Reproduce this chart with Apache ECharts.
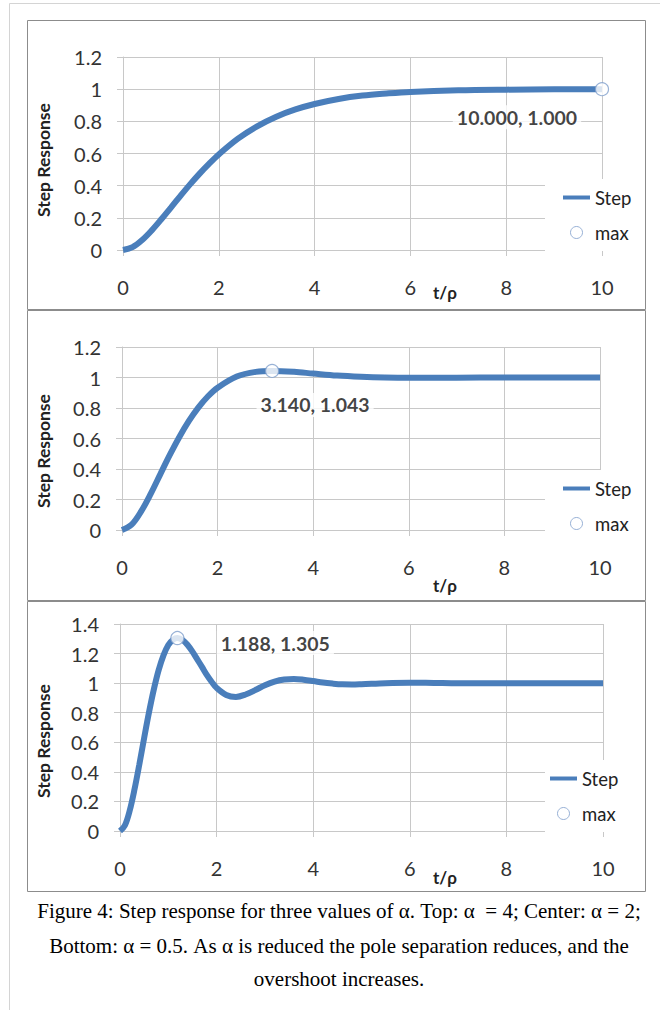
<!DOCTYPE html>
<html>
<head>
<meta charset="utf-8">
<script src="https://cdn.jsdelivr.net/npm/echarts@6/dist/echarts.min.js"></script>
<style>
  html, body { margin: 0; padding: 0; background: #fff; }
  #chart { width: 660px; height: 1010px; }
</style>
</head>
<body>
<div id="chart"></div>
<script>
// Step response curves, t/ρ against response, for α = 4, 2 and 0.5
const xTicks = [0, 2, 4, 6, 8, 10];

const tTop = [0, 0.2, 0.4, 0.6, 0.8, 1, 1.2, 1.4, 1.6, 1.8, 2, 2.4, 2.8, 3.2, 3.6, 4, 4.5, 5, 5.5, 6, 7, 8, 9, 10];
const yTop = [0, 0.018, 0.062, 0.122, 0.191, 0.264, 0.337, 0.408, 0.475, 0.537, 0.594, 0.692, 0.769, 0.829, 0.874, 0.908, 0.939, 0.960, 0.973, 0.983, 0.993, 0.997, 0.999, 1.000];
const maxTop = [10.000, 1.000];

const tCenter = [0, 0.2, 0.4, 0.6, 0.8, 1, 1.2, 1.4, 1.6, 1.8, 2, 2.4, 2.8, 3.14, 3.6, 4, 4.5, 5, 5.5, 6, 7, 8, 9, 10];
const yCenter = [0, 0.035, 0.122, 0.237, 0.365, 0.492, 0.610, 0.715, 0.804, 0.877, 0.933, 1.006, 1.037, 1.043, 1.037, 1.026, 1.013, 1.005, 1.000, 0.998, 0.999, 1.000, 1.000, 1.000];
const maxCenter = [3.140, 1.043];

const tBottom = [0, 0.1, 0.2, 0.3, 0.4, 0.5, 0.6, 0.7, 0.8, 0.9, 1, 1.1, 1.188, 1.3, 1.4, 1.5, 1.6, 1.7, 1.8, 1.9, 2, 2.2, 2.4, 2.6, 2.8, 3, 3.2, 3.4, 3.6, 3.8, 4, 4.2, 4.4, 4.6, 4.8, 5, 5.5, 6, 6.5, 7, 8, 9, 10];
const yBottom = [0, 0.037, 0.137, 0.281, 0.450, 0.629, 0.802, 0.957, 1.088, 1.188, 1.258, 1.295, 1.305, 1.291, 1.258, 1.213, 1.161, 1.108, 1.054, 1.008, 0.968, 0.920, 0.907, 0.923, 0.953, 0.986, 1.011, 1.025, 1.028, 1.023, 1.014, 1.004, 0.997, 0.992, 0.991, 0.993, 1.000, 1.003, 1.001, 0.999, 1.000, 1.000, 1.000];
const maxBottom = [1.188, 1.305];

const yMaxes = [1.2, 1.2, 1.4];
const yTitle = 'Step Response';
const xTitle = 't/ρ';
const legendNames = ['Step', 'max'];
const captionLines = [
  'Figure 4: Step response for three values of α. Top: α  = 4; Center: α = 2;',
  'Bottom: α = 0.5. As α is reduced the pole separation reduces, and the',
  'overshoot increases.'
];

const BLUE = '#4a7ebb';
const GRID = '#c8c8c8';
const FONT = 'Lato, "Open Sans", sans-serif';

const panels = [
  { t: tTop, y: yTop, peak: maxTop, grid: { left: 123, right: 58, top: 57, height: 193 },
    labelOffset: [-85, 28], legend: { left: 545, top: 179, padLeft: 18 },
    frame: [27.5, 20.5, 618, 289], yNameY: 160, xNameY: 292 },
  { t: tCenter, y: yCenter, peak: maxCenter, grid: { left: 122, right: 60, top: 347, height: 183 },
    labelOffset: [43, 34], legend: { left: 545, top: 470, padLeft: 18 },
    frame: [27.5, 310.5, 618, 290], yNameY: 451, xNameY: 585 },
  { t: tBottom, y: yBottom, peak: maxBottom, grid: { left: 120, right: 57, top: 624, height: 207 },
    labelOffset: [98, 5], legend: { left: 545, top: 760, padLeft: 5 },
    frame: [27.5, 601.5, 618, 290], yNameY: 741, xNameY: 877 }
];

const grids = [], xAxes = [], yAxes = [], series = [], legends = [], graphics = [];

// outer page frame (left and top edges)
graphics.push({
  type: 'polyline', silent: true,
  shape: { points: [[9.5, 1010], [9.5, 3.5], [660, 3.5]] },
  style: { stroke: '#d4d4d4', lineWidth: 1, fill: null }
});

panels.forEach((p, i) => {
  grids.push(p.grid);
  xAxes.push({
    type: 'value', gridIndex: i, min: xTicks[0], max: xTicks[xTicks.length - 1],
    interval: xTicks[1] - xTicks[0],
    axisLine: { show: true, onZero: false, lineStyle: { color: GRID, width: 1 } },
    axisTick: { show: true, length: 6, lineStyle: { color: GRID } },
    splitLine: { show: true, lineStyle: { color: GRID, width: 1 } },
    axisLabel: { fontSize: 20, fontFamily: FONT, color: '#333', margin: 27 }
  });
  yAxes.push({
    type: 'value', gridIndex: i, min: 0, max: yMaxes[i], interval: 0.2,
    axisLine: { show: true, lineStyle: { color: GRID, width: 1 } },
    axisTick: { show: true, length: 6, lineStyle: { color: GRID } },
    splitLine: { show: true, lineStyle: { color: GRID, width: 1 } },
    axisLabel: { fontSize: 20, fontFamily: FONT, color: '#333', margin: 21 }
  });
  series.push({
    type: 'line', name: legendNames[0], xAxisIndex: i, yAxisIndex: i,
    data: p.t.map((t, k) => [t, p.y[k]]),
    symbol: 'none', showSymbol: false, smooth: 0.35, silent: true,
    lineStyle: { color: BLUE, width: 6 }, itemStyle: { color: BLUE }, z: 2
  });
  series.push({
    type: 'scatter', name: legendNames[1], xAxisIndex: i, yAxisIndex: i,
    data: [p.peak], symbol: 'circle', symbolSize: 13, silent: true,
    itemStyle: { color: '#fff', borderColor: '#7f9fcc', borderWidth: 1.2 },
    label: {
      show: true, position: 'inside', offset: p.labelOffset,
      formatter: (d) => d.value[0].toFixed(3) + ', ' + d.value[1].toFixed(3),
      fontFamily: FONT, fontWeight: 'bold', fontSize: 19.5, color: '#111',
      backgroundColor: '#fff', padding: [2, 4]
    },
    z: 4
  });
  legends.push({
    orient: 'vertical', left: p.legend.left, top: p.legend.top,
    padding: [9, 10, 9, p.legend.padLeft], backgroundColor: '#fff',
    itemWidth: 27, itemHeight: 12, itemGap: 16, selectedMode: false,
    symbolKeepAspect: true,
    textStyle: { fontFamily: FONT, fontSize: 18.5, color: '#222', lineHeight: 18 },
    data: [
      { name: legendNames[0], icon: 'path://M0,0H27V4H0Z', itemStyle: { color: BLUE } },
      { name: legendNames[1], icon: 'circle', itemStyle: { color: '#fff', borderColor: '#7f9fcc', borderWidth: 1 } }
    ]
  });
  graphics.push({
    type: 'rect', silent: true,
    shape: { x: p.frame[0], y: p.frame[1], width: p.frame[2], height: p.frame[3] },
    style: { stroke: '#8c8c8c', lineWidth: 1, fill: null }, z: -1
  });
  graphics.push({
    type: 'text', silent: true, x: 43.5, y: p.yNameY, rotation: Math.PI / 2,
    style: { text: yTitle, font: 'bold 17.5px ' + FONT, fill: '#222', align: 'center', verticalAlign: 'middle' }
  });
  graphics.push({
    type: 'text', silent: true, x: 445, y: p.xNameY,
    style: { text: xTitle, font: 'bold 17px ' + FONT, fill: '#222', align: 'center', verticalAlign: 'middle' }
  });
});

// figure caption
const captionY = [911, 946, 979];
captionLines.forEach((line, k) => {
  graphics.push({
    type: 'text', silent: true, x: 339, y: captionY[k],
    style: { text: line, font: '21px "Liberation Serif", "Times New Roman", serif', fill: '#000', align: 'center', verticalAlign: 'middle' }
  });
});

const chart = echarts.init(document.getElementById('chart'), null, { renderer: 'svg', width: 660, height: 1010 });
chart.setOption({
  animation: false,
  backgroundColor: '#fff',
  grid: grids,
  xAxis: xAxes,
  yAxis: yAxes,
  legend: legends,
  series: series,
  graphic: graphics
});
</script>
</body>
</html>
